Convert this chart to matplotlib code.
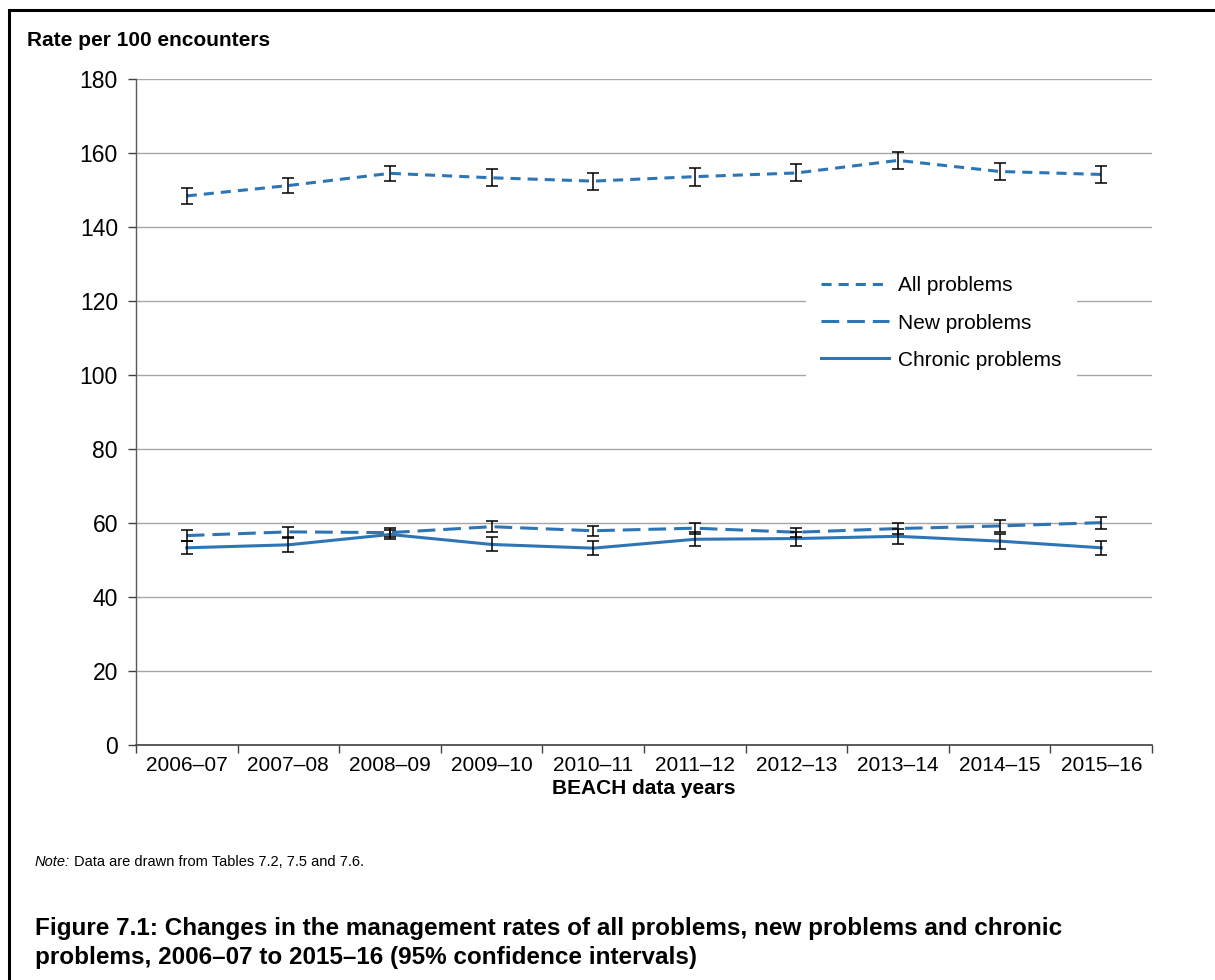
import matplotlib.pyplot as plt
from matplotlib.patches import Rectangle

plt.rcParams['font.family'] = ['Liberation Sans', 'DejaVu Sans']

years = ['2006–07', '2007–08', '2008–09', '2009–10', '2010–11',
         '2011–12', '2012–13', '2013–14', '2014–15', '2015–16']

all_rate = [148.4, 151.2, 154.5, 153.3, 152.4, 153.6, 154.6, 158.0, 155.0, 154.2]
all_ci = [2.1, 2.1, 2.0, 2.3, 2.3, 2.4, 2.3, 2.4, 2.2, 2.3]

new_rate = [56.6, 57.6, 57.4, 59.0, 57.9, 58.6, 57.5, 58.5, 59.2, 60.1]
new_ci = [1.4, 1.4, 1.2, 1.5, 1.4, 1.5, 1.2, 1.5, 1.5, 1.6]

chronic_rate = [53.3, 54.1, 56.9, 54.2, 53.2, 55.6, 55.8, 56.4, 55.1, 53.3]
chronic_ci = [1.7, 1.9, 1.2, 1.9, 1.8, 1.9, 1.9, 2.0, 2.0, 1.9]

blue = '#2E75B6'

fig = plt.figure(figsize=(12.15, 9.8), dpi=100)
ax = fig.add_axes([0.1119, 0.2398, 0.8363, 0.6796])

x = list(range(len(years)))
series = [
    ('All problems', all_rate, all_ci, (0, (3.3, 2.3))),
    ('New problems', new_rate, new_ci, (0, (5.8, 2.6))),
    ('Chronic problems', chronic_rate, chronic_ci, '-'),
]
for label, vals, ci, ls in series:
    ax.plot(x, vals, color=blue, lw=2.2, linestyle=ls, label=label, zorder=3)
    ax.errorbar(x, vals, yerr=ci, fmt='none', ecolor='black', elinewidth=1.1,
                capsize=4.5, capthick=1.1, zorder=4)

ax.set_xlim(-0.5, len(years) - 0.5)
ax.set_ylim(0, 180)
ax.set_yticks(range(0, 181, 20))
ax.yaxis.grid(True, color='#A6A6A6', lw=1.0)
ax.set_axisbelow(True)

# category labels sit between the boundary ticks
ax.set_xticks([i - 0.5 for i in range(len(years) + 1)])
ax.set_xticklabels([])
ax.set_xticks(x, minor=True)
ax.set_xticklabels(years, minor=True, fontsize=15)
ax.tick_params(axis='x', which='minor', length=0, pad=8)
ax.tick_params(axis='x', which='major', length=6, color='#404040', width=1)
ax.tick_params(axis='y', length=6, color='#404040', width=1, labelsize=16.5, pad=7)

for side in ['top', 'right']:
    ax.spines[side].set_visible(False)
ax.spines['left'].set_color('#595959')
ax.spines['bottom'].set_color('#404040')
ax.spines['left'].set_linewidth(1.0)
ax.spines['bottom'].set_linewidth(1.2)

leg = ax.legend(loc='upper left', bbox_to_anchor=(0.659, 0.727), frameon=True,
                fontsize=15, handlelength=3.27, labelspacing=0.87,
                borderpad=0.75, handletextpad=0.4, framealpha=1,
                borderaxespad=0)
leg.get_frame().set_edgecolor('white')
leg.get_frame().set_linewidth(0)

fig.text(27 / 1215, 1 - 40 / 980, 'Rate per 100 encounters', fontsize=15,
         fontweight='bold', va='center', ha='left')
fig.text(644 / 1215, 1 - 788 / 980, 'BEACH data years', fontsize=15,
         fontweight='bold', va='center', ha='center')

fig.text(35 / 1215, 1 - 862 / 980, 'Note:', fontsize=10.5, style='italic',
         va='center', ha='left')
fig.text(74 / 1215, 1 - 862 / 980, 'Data are drawn from Tables 7.2, 7.5 and 7.6.',
         fontsize=10.5, va='center', ha='left')

fig.text(35 / 1215, 1 - 928 / 980,
         'Figure 7.1: Changes in the management rates of all problems, new problems and chronic',
         fontsize=17.5, fontweight='bold', va='center', ha='left')
fig.text(35 / 1215, 1 - 957 / 980,
         'problems, 2006–07 to 2015–16 (95% confidence intervals)',
         fontsize=17.5, fontweight='bold', va='center', ha='left')

# outer frame around the figure, running off the right and bottom edges
fig.patches.append(Rectangle((9 / 1215, -0.05), 1.1, 1 - 10 / 980 + 0.05,
                             transform=fig.transFigure, fill=False,
                             edgecolor='black', lw=2.2))

fig.savefig('out.png', dpi=100)
